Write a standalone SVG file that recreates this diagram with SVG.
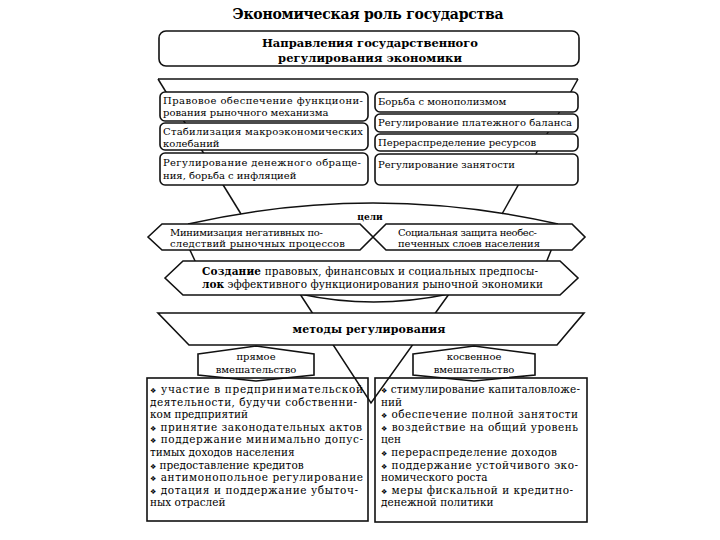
<svg xmlns="http://www.w3.org/2000/svg" width="720" height="540" viewBox="0 0 720 540">
<style>
.t{font-family:"DejaVu Serif","Liberation Serif",serif;font-size:10px;fill:#000}
.m{font-size:10.5px}
.b{font-weight:bold}
.bx{fill:#fff;stroke:#111;stroke-width:1.6}
.nf{fill:none;stroke:#111;stroke-width:1.6}
.ln{fill:none;stroke:#111;stroke-width:1.5}
.bl{font-family:"DejaVu Sans",sans-serif;font-size:7px}
</style>
<rect width="720" height="540" fill="#fff"/>
<text id="title" x="368" y="19" text-anchor="middle" class="t b" style="font-size:14px" textLength="271">Экономическая роль государства</text>

<g id="connectors" class="ln">
<path d="M158,79 H578"/>
<path d="M158,79 L241,214"/>
<path d="M578,79 L502,214"/>
<path d="M188,224 Q373,182 558,224"/>
<path d="M189,248 L196,263"/>
<path d="M552,248 L546,263"/>
<path d="M300,294 Q373,310 449,294"/>
<path d="M300,294 L371,403 L449,294"/>
</g>

<g id="n-top">
<rect class="bx" x="159" y="31" width="420" height="35" rx="7"/>
<text class="t b" style="font-size:11.5px" x="370" y="47" text-anchor="middle" textLength="216">Направления государственного</text>
<text class="t b" style="font-size:11.5px" x="370" y="62" text-anchor="middle" textLength="184">регулирования экономики</text>
</g>

<g id="n-l1">
<rect class="bx" x="160" y="92" width="208" height="29" rx="5"/>
<text class="t" x="163" y="104" textLength="200">Правовое обеспечение функциони-</text>
<text class="t" x="163" y="116">рования рыночного механизма</text>
</g>
<g id="n-l2">
<rect class="bx" x="160" y="123" width="208" height="27" rx="5"/>
<text class="t" x="163" y="135" textLength="200">Стабилизация макроэкономических</text>
<text class="t" x="163" y="147">колебаний</text>
</g>
<g id="n-l3">
<rect class="bx" x="160" y="153" width="208" height="32" rx="5"/>
<text class="t" x="163" y="166" textLength="198">Регулирование денежного обраще-</text>
<text class="t" x="163" y="179">ния, борьба с инфляцией</text>
</g>
<g id="n-r1">
<rect class="bx" x="375" y="92" width="203" height="20" rx="5"/>
<text class="t" x="378" y="105">Борьба с монополизмом</text>
</g>
<g id="n-r2">
<rect class="bx" x="375" y="114" width="203" height="18" rx="5"/>
<text class="t" x="378" y="126" textLength="194">Регулирование платежного баланса</text>
</g>
<g id="n-r3">
<rect class="bx" x="375" y="134" width="203" height="17" rx="5"/>
<text class="t" x="378" y="146">Перераспределение ресурсов</text>
</g>
<g id="n-r4">
<rect class="bx" x="375" y="154" width="203" height="31" rx="5"/>
<text class="t" x="378" y="168">Регулирование занятости</text>
</g>

<g id="n-goals">
<text class="t b" style="font-size:9px" x="370" y="220" text-anchor="middle">цели</text>
</g>
<g id="n-g1">
<polygon class="bx" points="148,237 162,224 360,224 373,237 360,250 162,250"/>
<text class="t" x="170" y="236" textLength="153">Минимизация негативных по-</text>
<text class="t" x="170" y="247" textLength="175">следствий рыночных процессов</text>
</g>
<g id="n-g2">
<polygon class="bx" points="373,237 386,224 572,224 585,237 572,250 386,250"/>
<text class="t" x="398" y="236" textLength="139">Социальная защита необес-</text>
<text class="t" x="398" y="247" textLength="142">печенных слоев населения</text>
</g>
<g id="n-g3">
<polygon class="bx" points="165,278 183,261 560,261 578,278 560,295 183,295"/>
<text class="t m" x="202" y="275" textLength="336"><tspan class="b">Создание</tspan> правовых, финансовых и социальных предпосы-</text>
<text class="t m" x="202" y="288" textLength="341"><tspan class="b">лок</tspan> эффективного функционирования рыночной экономики</text>
</g>

<g id="n-methods">
<polygon class="bx" points="158,313 584,313 557,345 189,345"/>
<text class="t b" style="font-size:11px" x="369" y="333" text-anchor="middle" textLength="153">методы регулирования</text>
</g>
<g id="n-direct">
<polygon class="bx" points="198,354 256,346 314,354 314,375 256,381 198,375"/>
<text class="t" x="256" y="360" text-anchor="middle">прямое</text>
<text class="t" x="256" y="373" text-anchor="middle">вмешательство</text>
</g>
<g id="n-indirect">
<polygon class="bx" points="413,354 474,346 535,354 535,375 474,381 413,375"/>
<text class="t" x="474" y="360" text-anchor="middle">косвенное</text>
<text class="t" x="474" y="373" text-anchor="middle">вмешательство</text>
</g>

<g id="n-direct-list">
<rect class="nf" x="147" y="378" width="221" height="143"/>
<text class="t m" x="150" y="393" textLength="213"><tspan class="bl">❖</tspan> участие в предпринимательской</text>
<text class="t m" x="150" y="405.6" textLength="207">деятельности, будучи собственни-</text>
<text class="t m" x="150" y="418.2">ком предприятий</text>
<text class="t m" x="150" y="430.8" textLength="212"><tspan class="bl">❖</tspan> принятие законодательных актов</text>
<text class="t m" x="150" y="443.4" textLength="213"><tspan class="bl">❖</tspan> поддержание минимально допус-</text>
<text class="t m" x="150" y="456">тимых доходов населения</text>
<text class="t m" x="150" y="468.6"><tspan class="bl">❖</tspan> предоставление кредитов</text>
<text class="t m" x="150" y="481.2" textLength="213"><tspan class="bl">❖</tspan> антимонопольное регулирование</text>
<text class="t m" x="150" y="493.8" textLength="208"><tspan class="bl">❖</tspan> дотация и поддержание убыточ-</text>
<text class="t m" x="150" y="506.4">ных отраслей</text>
</g>
<g id="n-indirect-list">
<rect class="nf" x="375" y="378" width="212" height="144"/>
<text class="t m" x="381" y="393" textLength="199"><tspan class="bl">❖</tspan> стимулирование капиталовложе-</text>
<text class="t m" x="381" y="405.6">ний</text>
<text class="t m" x="381" y="418.2" textLength="197"><tspan class="bl">❖</tspan> обеспечение полной занятости</text>
<text class="t m" x="381" y="430.8" textLength="197"><tspan class="bl">❖</tspan> воздействие на общий уровень</text>
<text class="t m" x="381" y="443.4">цен</text>
<text class="t m" x="381" y="456" textLength="176"><tspan class="bl">❖</tspan> перераспределение доходов</text>
<text class="t m" x="381" y="468.6" textLength="197"><tspan class="bl">❖</tspan> поддержание устойчивого эко-</text>
<text class="t m" x="381" y="481.2">номического роста</text>
<text class="t m" x="381" y="493.8" textLength="192"><tspan class="bl">❖</tspan> меры фискальной и кредитно-</text>
<text class="t m" x="381" y="506.4">денежной политики</text>
</g>
</svg>
